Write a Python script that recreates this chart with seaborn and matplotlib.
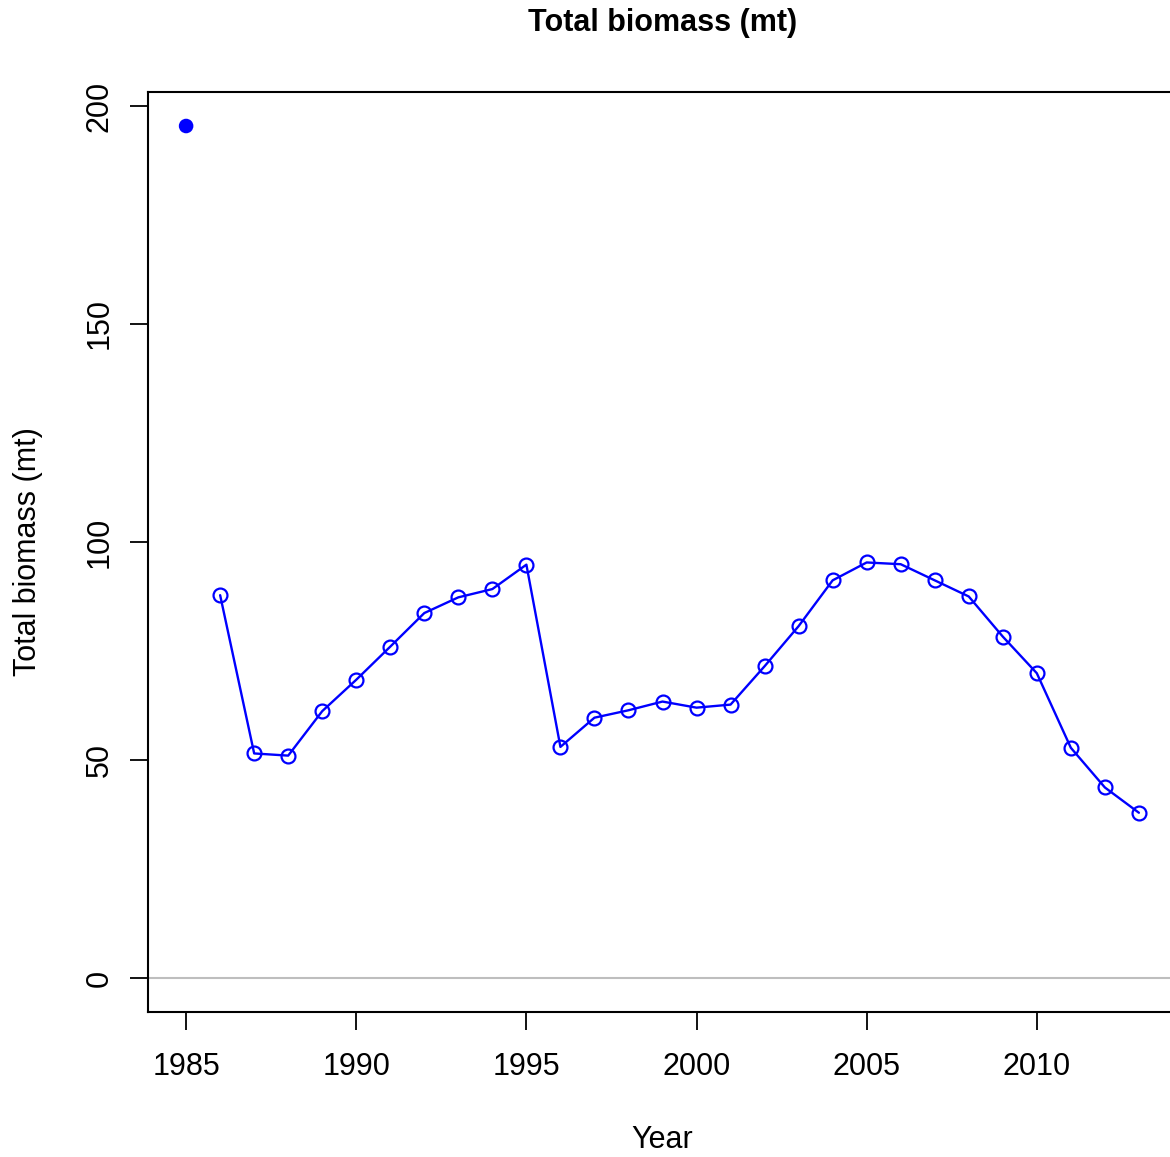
import matplotlib
matplotlib.use("Agg")
import matplotlib.pyplot as plt
import seaborn as sns
import pandas as pd

# Total biomass estimates (mt) by year
years = [1986, 1987, 1988, 1989, 1990, 1991, 1992, 1993, 1994, 1995,
         1996, 1997, 1998, 1999, 2000, 2001, 2002, 2003, 2004, 2005,
         2006, 2007, 2008, 2009, 2010, 2011, 2012, 2013]
biomass = [87.8, 51.5, 51.0, 61.2, 68.4, 76.0, 83.7, 87.3, 89.2, 94.8,
           53.0, 59.7, 61.4, 63.4, 62.0, 62.7, 71.5, 80.7, 91.2, 95.3,
           94.9, 91.2, 87.5, 78.3, 69.9, 52.8, 43.7, 37.9]
# Unfished (virgin) biomass
virgin_year = [1985]
virgin_biomass = [195.4]

df = pd.DataFrame({"Year": years, "Biomass": biomass})
dv = pd.DataFrame({"Year": virgin_year, "Biomass": virgin_biomass})

sns.set_style("white")
plt.rcParams["font.family"] = ["Liberation Sans", "DejaVu Sans"]
plt.rcParams["text.color"] = "black"
plt.rcParams["axes.labelcolor"] = "black"

fig = plt.figure(figsize=(11.7, 11.57), dpi=100)
ax = fig.add_axes([148 / 1170, 1 - 1012 / 1157, (1177 - 148) / 1170, (1012 - 92) / 1157])

ax.axhline(0, color="#bebebe", lw=1.5, zorder=1)

sns.lineplot(data=df, x="Year", y="Biomass", ax=ax, color="blue", lw=1.7,
             marker="o", markersize=10, markerfacecolor="none",
             markeredgecolor="blue", markeredgewidth=1.6, zorder=3)
sns.scatterplot(data=dv, x="Year", y="Biomass", ax=ax, color="blue", s=110,
                edgecolor="none", zorder=4)

ax.set_xlim(1983.88, 2014.12)
ax.set_ylim(-7.8, 203.2)
ax.set_xticks([1985, 1990, 1995, 2000, 2005, 2010])
ax.set_yticks([0, 50, 100, 150, 200])
ax.set_yticklabels(["0", "50", "100", "150", "200"], rotation=90, va="center")

ax.tick_params(axis="both", which="major", bottom=True, left=True,
               direction="out", length=13, width=1.3,
               labelsize=22, color="black", labelcolor="black")
ax.tick_params(axis="x", pad=16)
ax.tick_params(axis="y", pad=11)

for side in ["left", "right", "top", "bottom"]:
    ax.spines[side].set_visible(True)
    ax.spines[side].set_color("black")
    ax.spines[side].set_linewidth(1.5)

ax.set_xlabel("Year", fontsize=22, labelpad=31, color="black")
ax.set_ylabel("Total biomass (mt)", fontsize=22, labelpad=30, color="black")
ax.set_title("Total biomass (mt)", fontsize=22, fontweight="bold", pad=44,
             color="black")

fig.savefig("out.png", dpi=100)
